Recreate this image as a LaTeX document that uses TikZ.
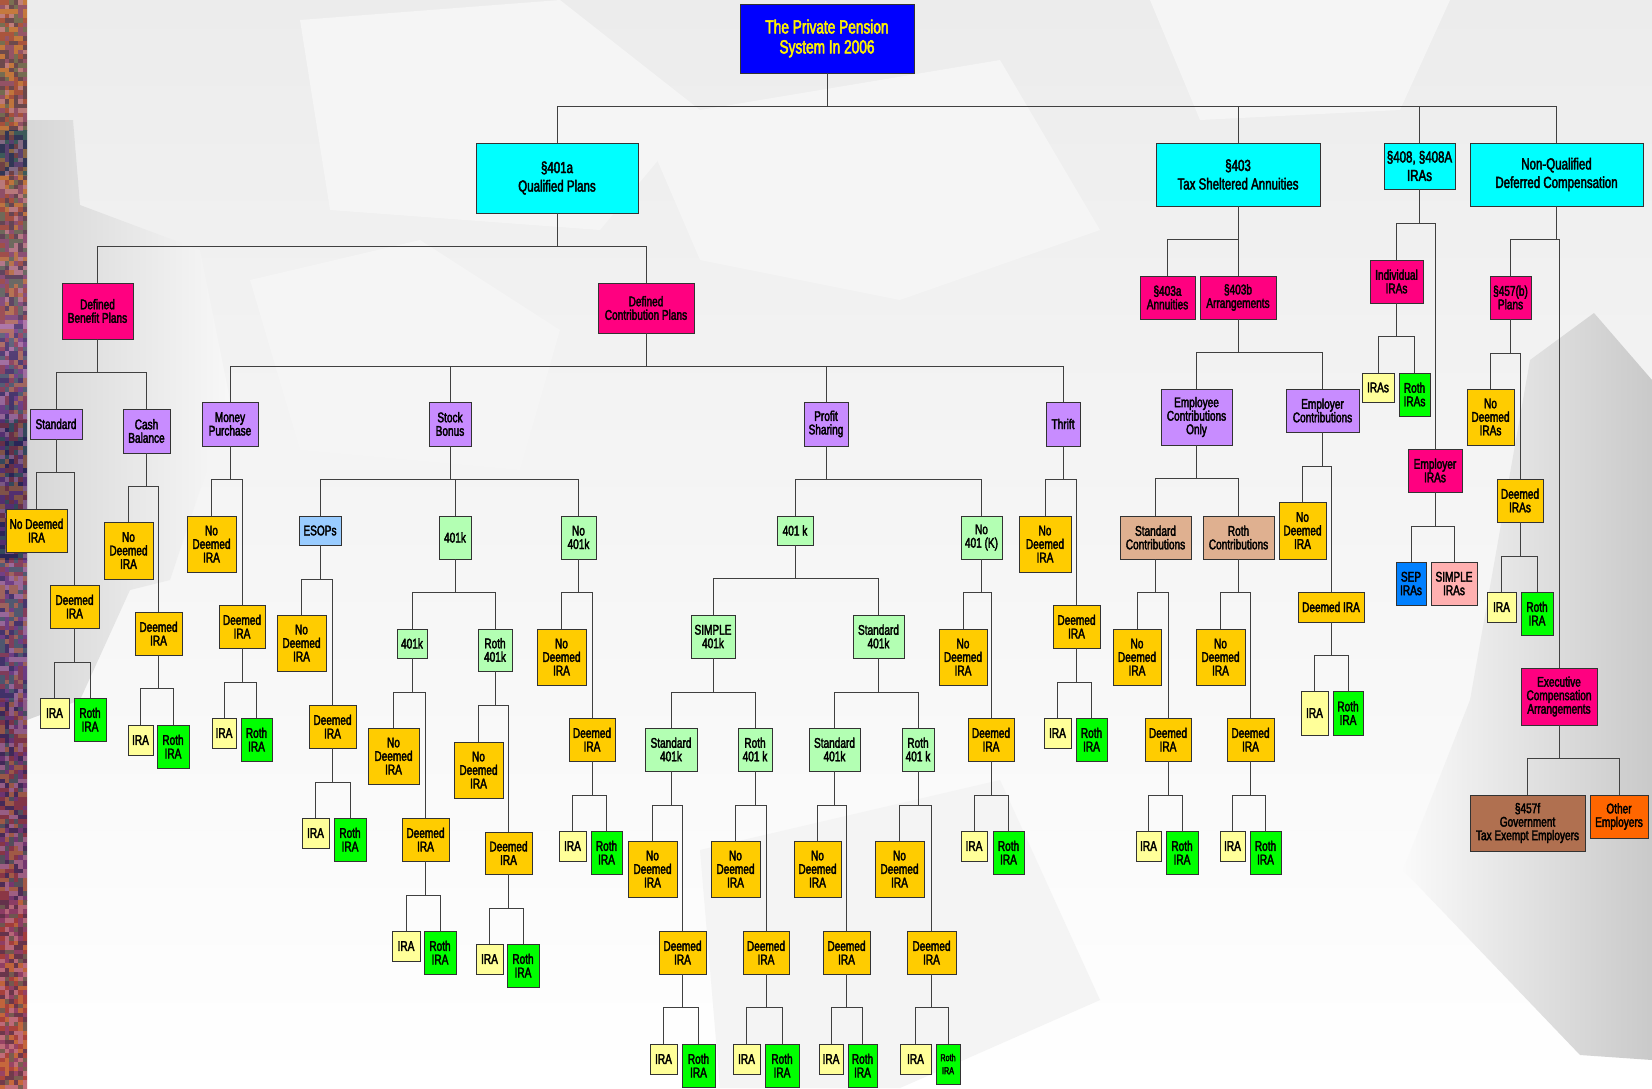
\documentclass[tikz,border=0pt]{standalone}
\usepackage{fontspec}
\setmainfont{Liberation Sans}[FakeStretch=0.72,FakeBold=2.5]
\definecolor{rootblue}{RGB}{0,0,255}
\definecolor{cyanbox}{RGB}{0,255,255}
\definecolor{hotpink}{RGB}{255,0,128}
\definecolor{lav}{RGB}{200,140,255}
\definecolor{gold}{RGB}{255,204,0}
\definecolor{mint}{RGB}{179,255,179}
\definecolor{lime}{RGB}{0,255,0}
\definecolor{pale}{RGB}{255,255,153}
\definecolor{sky}{RGB}{153,204,255}
\definecolor{tanbox}{RGB}{223,176,144}
\definecolor{sepblue}{RGB}{0,128,255}
\definecolor{rose}{RGB}{255,176,176}
\definecolor{brownbox}{RGB}{176,112,80}
\definecolor{orangebox}{RGB}{255,102,0}
\definecolor{bgtop}{RGB}{236,236,236}
\definecolor{bgl}{RGB}{245,245,245}
\definecolor{s0}{RGB}{185,115,65}
\definecolor{s1}{RGB}{170,100,60}
\definecolor{s2}{RGB}{60,70,80}
\definecolor{s3}{RGB}{150,100,120}
\definecolor{s4}{RGB}{150,100,160}
\definecolor{s5}{RGB}{90,60,120}
\definecolor{s6}{RGB}{45,35,85}
\definecolor{s7}{RGB}{110,70,130}
\definecolor{s8}{RGB}{80,40,90}
\definecolor{s9}{RGB}{120,50,80}
\definecolor{s10}{RGB}{160,60,60}
\definecolor{s11}{RGB}{190,80,60}
\definecolor{nz1}{RGB}{210,130,60}
\definecolor{nz2}{RGB}{120,60,140}
\definecolor{nz3}{RGB}{40,40,90}
\definecolor{nz4}{RGB}{160,60,60}
\definecolor{nz5}{RGB}{200,140,180}
\definecolor{nz6}{RGB}{60,110,100}

\begin{document}
\begin{tikzpicture}[x=1pt,y=-1pt,
b/.style={
draw=black!80,
line width=0.8pt,
anchor=north west,
inner sep=0pt,
outer sep=0pt,
align=center,
font=\fontsize{14}{13.5}\selectfont},
sz/.style 2 args={minimum width=#1,minimum height=#2},
rt/.style={b,fill=rootblue,text=yellow,font=\fontsize{19}{20}\selectfont},
cy/.style={b,fill=cyanbox,font=\fontsize{16}{18.5}\selectfont},
pk/.style={b,fill=hotpink},
lv/.style={b,fill=lav},
go/.style={b,fill=gold},
lg/.style={b,fill=mint},
gr/.style={b,fill=lime},
ly/.style={b,fill=pale},
ln/.style={draw=black!75,line width=0.9pt},
]
\useasboundingbox(0,0)rectangle(1652,1088);
%Background
\shade[top color=bgtop,bottom color=white](27,0)rectangle(1652,1088);
\fill[bgl](300,20)--(560,0)--(700,110)--(600,230)--(330,210)--cycle;
\fill[bgl](640,120)--(1000,60)--(1100,230)--(900,300)--(700,260)--cycle;
\fill[bgl](1150,0)--(1450,0)--(1400,110)--(1200,120)--cycle;
\fill[bgl](250,280)--(420,240)--(560,330)--(520,470)--(300,450)--cycle;
\fill[bgtop!60!white](700,850)--(1000,780)--(1100,1000)--(900,1088)--(720,1088)--cycle;
\shade[left color=gray!32,right color=gray!6](27,120)--(73,120)--(80,205)--(200,250)--(230,400)--(170,580)--(130,590)--(80,700)--(27,720)--cycle;
\shade[left color=gray!4,right color=gray!42](1594,313)--(1652,380)--(1652,1060)--(1580,1055)--(1403,870)--(1470,700)--(1530,360)--cycle;
%%Left strip
\foreach \ya/\yb/\ca/\cb in {0/130/s0/s1,130/175/s2/s2,175/320/s1/s3,320/420/s4/s5,420/560/s6/s6,560/700/s7/s5,700/900/s8/s9,900/1088/s10/s11}
{\shade[top color=\ca,bottom color=\cb](0,\ya)rectangle(27,\yb);}
\pgfmathsetseed{11}
\foreach \j in {0,...,241}{\foreach \i in {0,...,5}{\pgfmathrandominteger{\k}{1}{6}\fill[fill=nz\k,opacity=.5](\i*4.5,\j*4.5)rectangle++(4.5,4.5);}}

%Root
\node[rt,sz={174}{69}](root)at(740,4){The Private Pension\\System In 2006};
%Level 1
\node[cy,sz={162}{70}](q401)at(476,143){§401a\\Qualified Plans};
\node[cy,sz={164}{63}](s403)at(1156,143){§403\\Tax Sheltered Annuities};
\node[cy,sz={71}{46}](s408)at(1384,143){§408, §408A\\IRAs};
\node[cy,sz={173}{63}](nq)at(1470,143){Non-Qualified\\Deferred Compensation};
%Qualified plans
\node[pk,sz={71}{56}](db)at(62,283){Defined\\Benefit Plans};
\node[pk,sz={96}{50}](dc)at(598,283){Defined\\Contribution Plans};
%%Defined benefit
\node[lv,sz={52}{30}](std)at(30,409){Standard};
\node[lv,sz={47}{44}](cash)at(123,409){Cash\\Balance};
\node[go,sz={61}{43}](stdNo)at(6,509){No Deemed\\IRA};
\node[go,sz={49}{43}](stdDe)at(50,585){Deemed\\IRA};
\node[ly,sz={29}{30}](stdIra)at(40,698){IRA};
\node[gr,sz={32}{43}](stdRoth)at(74,698){Roth\\IRA};
\node[go,sz={49}{57}](cashNo)at(104,522){No\\Deemed\\IRA};
\node[go,sz={47}{43}](cashDe)at(135,612){Deemed\\IRA};
\node[ly,sz={25}{30}](cashIra)at(128,725){IRA};
\node[gr,sz={32}{43}](cashRoth)at(157,725){Roth\\IRA};
%%Defined contribution
\node[lv,sz={56}{44}](mp)at(202,402){Money\\Purchase};
\node[lv,sz={42}{44}](sb)at(429,402){Stock\\Bonus};
\node[lv,sz={44}{44}](ps)at(804,402){Profit\\Sharing};
\node[lv,sz={34}{44}](th)at(1046,402){Thrift};
%%%Money purchase
\node[go,sz={49}{56}](mpNo)at(187,516){No\\Deemed\\IRA};
\node[go,sz={46}{43}](mpDe)at(219,605){Deemed\\IRA};
\node[ly,sz={24}{30}](mpIra)at(212,718){IRA};
\node[gr,sz={31}{43}](mpRoth)at(241,718){Roth\\IRA};
%%%Stock bonus
\node[b,fill=sky,sz={42}{29}](esop)at(299,516){ESOPs};
\node[lg,sz={32}{43}](sb401)at(439,516){401k};
\node[lg,sz={35}{43}](no401)at(561,516){No\\401k};
\node[go,sz={49}{56}](esNo)at(277,615){No\\Deemed\\IRA};
\node[go,sz={47}{43}](esDe)at(309,705){Deemed\\IRA};
\node[ly,sz={27}{30}](esIra)at(302,818){IRA};
\node[gr,sz={32}{43}](esRoth)at(334,818){Roth\\IRA};
\node[lg,sz={30}{29}](k401)at(397,629){401k};
\node[lg,sz={34}{42}](kRoth)at(478,629){Roth\\401k};
\node[go,sz={51}{56}](kNo)at(368,728){No\\Deemed\\IRA};
\node[go,sz={47}{43}](kDe)at(402,818){Deemed\\IRA};
\node[ly,sz={28}{30}](kIra)at(392,931){IRA};
\node[gr,sz={32}{43}](kRothIra)at(424,931){Roth\\IRA};
\node[go,sz={49}{56}](krNo)at(454,742){No\\Deemed\\IRA};
\node[go,sz={47}{42}](krDe)at(485,832){Deemed\\IRA};
\node[ly,sz={27}{30}](krIra)at(476,944){IRA};
\node[gr,sz={32}{43}](krRothIra)at(507,944){Roth\\IRA};
\node[go,sz={49}{56}](n4No)at(537,629){No\\Deemed\\IRA};
\node[go,sz={46}{43}](n4De)at(569,718){Deemed\\IRA};
\node[ly,sz={27}{30}](n4Ira)at(559,831){IRA};
\node[gr,sz={31}{43}](n4Roth)at(591,831){Roth\\IRA};
%%%Profit sharing
\node[lg,sz={36}{29}](ps401)at(777,516){401 k};
\node[lg,sz={41}{43}](psNo)at(961,516){No\\401 (K)};
\node[lg,sz={44}{43}](simple)at(691,615){SIMPLE\\401k};
\node[lg,sz={51}{43}](stand)at(853,615){Standard\\401k};
\node[lg,sz={52}{43}](siStd)at(645,728){Standard\\401k};
\node[lg,sz={34}{43}](siRoth)at(738,728){Roth\\401 k};
\node[lg,sz={51}{43}](stStd)at(809,728){Standard\\401k};
\node[lg,sz={32}{43}](stRoth)at(902,728){Roth\\401 k};
\node[go,sz={49}{56}](a1No)at(628,841){No\\Deemed\\IRA};
\node[go,sz={47}{43}](a1De)at(659,931){Deemed\\IRA};
\node[ly,sz={27}{30}](a1Ira)at(650,1044){IRA};
\node[gr,sz={33}{43}](a1Roth)at(682,1044){Roth\\IRA};
\node[go,sz={49}{56}](a2No)at(711,841){No\\Deemed\\IRA};
\node[go,sz={46}{43}](a2De)at(743,931){Deemed\\IRA};
\node[ly,sz={27}{30}](a2Ira)at(733,1044){IRA};
\node[gr,sz={34}{43}](a2Roth)at(765,1044){Roth\\IRA};
\node[go,sz={47}{56}](a3No)at(794,841){No\\Deemed\\IRA};
\node[go,sz={47}{43}](a3De)at(823,931){Deemed\\IRA};
\node[ly,sz={24}{30}](a3Ira)at(819,1044){IRA};
\node[gr,sz={29}{43}](a3Roth)at(848,1044){Roth\\IRA};
\node[go,sz={49}{56}](a4No)at(875,841){No\\Deemed\\IRA};
\node[go,sz={49}{43}](a4De)at(907,931){Deemed\\IRA};
\node[ly,sz={31}{30}](a4Ira)at(900,1044){IRA};
\node[gr,sz={24}{40},font=\fontsize{10}{13}\selectfont](a4Roth)at(936,1044){Roth\\IRA};
\node[go,sz={48}{56}](pnNo)at(939,629){No\\Deemed\\IRA};
\node[go,sz={46}{43}](pnDe)at(968,718){Deemed\\IRA};
\node[ly,sz={26}{30}](pnIra)at(961,831){IRA};
\node[gr,sz={31}{43}](pnRoth)at(993,831){Roth\\IRA};
%%%Thrift
\node[go,sz={52}{56}](thNo)at(1019,516){No\\Deemed\\IRA};
\node[go,sz={47}{43}](thDe)at(1053,605){Deemed\\IRA};
\node[ly,sz={27}{30}](thIra)at(1044,718){IRA};
\node[gr,sz={31}{43}](thRoth)at(1076,718){Roth\\IRA};
%Tax sheltered annuities
\node[pk,sz={55}{43}](s403a)at(1140,276){§403a\\Annuities};
\node[pk,sz={76}{43}](s403b)at(1200,276){§403b\\Arrangements};
\node[lv,sz={71}{56}](eeOnly)at(1161,389){Employee\\Contributions\\Only};
\node[lv,sz={73}{43}](erC)at(1286,389){Employer\\Contributions};
\node[b,fill=tanbox,sz={71}{43}](stdC)at(1120,516){Standard\\Contributions};
\node[b,fill=tanbox,sz={71}{43}](rothC)at(1203,516){Roth\\Contributions};
\node[go,sz={48}{56}](scNo)at(1113,629){No\\Deemed\\IRA};
\node[go,sz={46}{43}](scDe)at(1145,718){Deemed\\IRA};
\node[ly,sz={25}{30}](scIra)at(1136,831){IRA};
\node[gr,sz={32}{43}](scRoth)at(1166,831){Roth\\IRA};
\node[go,sz={49}{56}](rcNo)at(1196,629){No\\Deemed\\IRA};
\node[go,sz={47}{43}](rcDe)at(1227,718){Deemed\\IRA};
\node[ly,sz={25}{30}](rcIra)at(1220,831){IRA};
\node[gr,sz={31}{43}](rcRoth)at(1250,831){Roth\\IRA};
\node[go,sz={47}{57}](ecNo)at(1279,502){No\\Deemed\\IRA};
\node[go,sz={66}{30}](ecDe)at(1298,592){Deemed IRA};
\node[ly,sz={27}{44}](ecIra)at(1301,691){IRA};
\node[gr,sz={30}{44}](ecRoth)at(1333,691){Roth\\IRA};
%IRAs
\node[pk,sz={53}{43}](indiv)at(1370,260){Individual\\IRAs};
\node[pk,sz={54}{43}](erIra)at(1408,449){Employer\\IRAs};
\node[ly,sz={32}{29}](inIras)at(1362,373){IRAs};
\node[gr,sz={31}{43}](inRoth)at(1399,373){Roth\\IRAs};
\node[b,fill=sepblue,sz={30}{43}](sep)at(1396,562){SEP\\IRAs};
\node[b,fill=rose,sz={46}{43}](simIra)at(1431,562){SIMPLE\\IRAs};
%Non-qualified
\node[pk,sz={41}{43}](p457)at(1490,276){§457(b)\\Plans};
\node[go,sz={47}{56}](pNo)at(1467,389){No\\Deemed\\IRAs};
\node[go,sz={46}{43}](pDe)at(1497,479){Deemed\\IRAs};
\node[ly,sz={29}{30}](pIra)at(1487,592){IRA};
\node[gr,sz={32}{43}](pRoth)at(1521,592){Roth\\IRA};
\node[pk,sz={76}{57}](exec)at(1521,668){Executive\\Compensation\\Arrangements};
\node[b,fill=brownbox,sz={115}{56}](f457)at(1470,795){§457f\\Government\\Tax Exempt Employers};
\node[b,fill=orangebox,sz={58}{43}](other)at(1590,795){Other\\Employers};

%Connectors
\draw[ln](root.south)--++(0,33)-|(q401.north);
\draw[ln](root.south)--++(0,33)-|(s403.north);
\draw[ln](root.south)--++(0,33)-|(s408.north);
\draw[ln](root.south)--++(0,33)-|(nq.north);
\draw[ln](q401.south)--++(0,33)-|(db.north);
\draw[ln](q401.south)--++(0,33)-|(dc.north);
\draw[ln](db.south)--++(0,33)-|(std.north);
\draw[ln](db.south)--++(0,33)-|(cash.north);
\draw[ln](std.south)--++(0,33)-|(stdNo.north);
\draw[ln](std.south)--++(0,33)-|(stdDe.north);
\draw[ln](stdDe.south)--++(0,34)-|(stdIra.north);
\draw[ln](stdDe.south)--++(0,34)-|(stdRoth.north);
\draw[ln](cash.south)--++(0,33)-|(cashNo.north);
\draw[ln](cash.south)--++(0,33)-|(cashDe.north);
\draw[ln](cashDe.south)--++(0,33)-|(cashIra.north);
\draw[ln](cashDe.south)--++(0,33)-|(cashRoth.north);
\draw[ln](dc.south)--++(0,33)-|(mp.north);
\draw[ln](dc.south)--++(0,33)-|(sb.north);
\draw[ln](dc.south)--++(0,33)-|(ps.north);
\draw[ln](dc.south)--++(0,33)-|(th.north);
\draw[ln](mp.south)--++(0,33)-|(mpNo.north);
\draw[ln](mp.south)--++(0,33)-|(mpDe.north);
\draw[ln](mpDe.south)--++(0,34)-|(mpIra.north);
\draw[ln](mpDe.south)--++(0,34)-|(mpRoth.north);
\draw[ln](sb.south)--++(0,33)-|(esop.north);
\draw[ln](sb.south)--++(0,33)-|(sb401.north);
\draw[ln](sb.south)--++(0,33)-|(no401.north);
\draw[ln](esop.south)--++(0,34)-|(esNo.north);
\draw[ln](esop.south)--++(0,34)-|(esDe.north);
\draw[ln](esDe.south)--++(0,34)-|(esIra.north);
\draw[ln](esDe.south)--++(0,34)-|(esRoth.north);
\draw[ln](sb401.south)--++(0,33)-|(k401.north);
\draw[ln](sb401.south)--++(0,33)-|(kRoth.north);
\draw[ln](k401.south)--++(0,34)-|(kNo.north);
\draw[ln](k401.south)--++(0,34)-|(kDe.north);
\draw[ln](kDe.south)--++(0,34)-|(kIra.north);
\draw[ln](kDe.south)--++(0,34)-|(kRothIra.north);
\draw[ln](kRoth.south)--++(0,34)-|(krNo.north);
\draw[ln](kRoth.south)--++(0,34)-|(krDe.north);
\draw[ln](krDe.south)--++(0,34)-|(krIra.north);
\draw[ln](krDe.south)--++(0,34)-|(krRothIra.north);
\draw[ln](no401.south)--++(0,33)-|(n4No.north);
\draw[ln](no401.south)--++(0,33)-|(n4De.north);
\draw[ln](n4De.south)--++(0,34)-|(n4Ira.north);
\draw[ln](n4De.south)--++(0,34)-|(n4Roth.north);
\draw[ln](ps.south)--++(0,33)-|(ps401.north);
\draw[ln](ps.south)--++(0,33)-|(psNo.north);
\draw[ln](ps401.south)--++(0,33)-|(simple.north);
\draw[ln](ps401.south)--++(0,33)-|(stand.north);
\draw[ln](simple.south)--++(0,34)-|(siStd.north);
\draw[ln](simple.south)--++(0,34)-|(siRoth.north);
\draw[ln](stand.south)--++(0,34)-|(stStd.north);
\draw[ln](stand.south)--++(0,34)-|(stRoth.north);
\draw[ln](siStd.south)--++(0,34)-|(a1No.north);
\draw[ln](siStd.south)--++(0,34)-|(a1De.north);
\draw[ln](a1De.south)--++(0,33)-|(a1Ira.north);
\draw[ln](a1De.south)--++(0,33)-|(a1Roth.north);
\draw[ln](siRoth.south)--++(0,34)-|(a2No.north);
\draw[ln](siRoth.south)--++(0,34)-|(a2De.north);
\draw[ln](a2De.south)--++(0,33)-|(a2Ira.north);
\draw[ln](a2De.south)--++(0,33)-|(a2Roth.north);
\draw[ln](stStd.south)--++(0,34)-|(a3No.north);
\draw[ln](stStd.south)--++(0,34)-|(a3De.north);
\draw[ln](a3De.south)--++(0,33)-|(a3Ira.north);
\draw[ln](a3De.south)--++(0,33)-|(a3Roth.north);
\draw[ln](stRoth.south)--++(0,34)-|(a4No.north);
\draw[ln](stRoth.south)--++(0,34)-|(a4De.north);
\draw[ln](a4De.south)--++(0,33)-|(a4Ira.north);
\draw[ln](a4De.south)--++(0,33)-|(a4Roth.north);
\draw[ln](psNo.south)--++(0,33)-|(pnNo.north);
\draw[ln](psNo.south)--++(0,33)-|(pnDe.north);
\draw[ln](pnDe.south)--++(0,34)-|(pnIra.north);
\draw[ln](pnDe.south)--++(0,34)-|(pnRoth.north);
\draw[ln](th.south)--++(0,33)-|(thNo.north);
\draw[ln](th.south)--++(0,33)-|(thDe.north);
\draw[ln](thDe.south)--++(0,34)-|(thIra.north);
\draw[ln](thDe.south)--++(0,34)-|(thRoth.north);
\draw[ln](s403.south)--++(0,33)-|(s403a.north);
\draw[ln](s403.south)--++(0,33)-|(s403b.north);
\draw[ln](s403b.south)--++(0,33)-|(eeOnly.north);
\draw[ln](s403b.south)--++(0,33)-|(erC.north);
\draw[ln](eeOnly.south)--++(0,33)-|(stdC.north);
\draw[ln](eeOnly.south)--++(0,33)-|(rothC.north);
\draw[ln](stdC.south)--++(0,33)-|(scNo.north);
\draw[ln](stdC.south)--++(0,33)-|(scDe.north);
\draw[ln](scDe.south)--++(0,34)-|(scIra.north);
\draw[ln](scDe.south)--++(0,34)-|(scRoth.north);
\draw[ln](rothC.south)--++(0,33)-|(rcNo.north);
\draw[ln](rothC.south)--++(0,33)-|(rcDe.north);
\draw[ln](rcDe.south)--++(0,34)-|(rcIra.north);
\draw[ln](rcDe.south)--++(0,34)-|(rcRoth.north);
\draw[ln](erC.south)--++(0,34)-|(ecNo.north);
\draw[ln](erC.south)--++(0,34)-|(ecDe.north);
\draw[ln](ecDe.south)--++(0,33)-|(ecIra.north);
\draw[ln](ecDe.south)--++(0,33)-|(ecRoth.north);
\draw[ln](s408.south)--++(0,34)-|(indiv.north);
\draw[ln](s408.south)--++(0,34)-|(erIra.north);
\draw[ln](indiv.south)--++(0,33)-|(inIras.north);
\draw[ln](indiv.south)--++(0,33)-|(inRoth.north);
\draw[ln](erIra.south)--++(0,34)-|(sep.north);
\draw[ln](erIra.south)--++(0,34)-|(simIra.north);
\draw[ln](nq.south)--++(0,33)-|(p457.north);
\draw[ln](nq.south)--++(0,33)-|(exec.north);
\draw[ln](p457.south)--++(0,34)-|(pNo.north);
\draw[ln](p457.south)--++(0,34)-|(pDe.north);
\draw[ln](pDe.south)--++(0,34)-|(pIra.north);
\draw[ln](pDe.south)--++(0,34)-|(pRoth.north);
\draw[ln](exec.south)--++(0,33)-|(f457.north);
\draw[ln](exec.south)--++(0,33)-|(other.north);
\end{tikzpicture}
\end{document}
